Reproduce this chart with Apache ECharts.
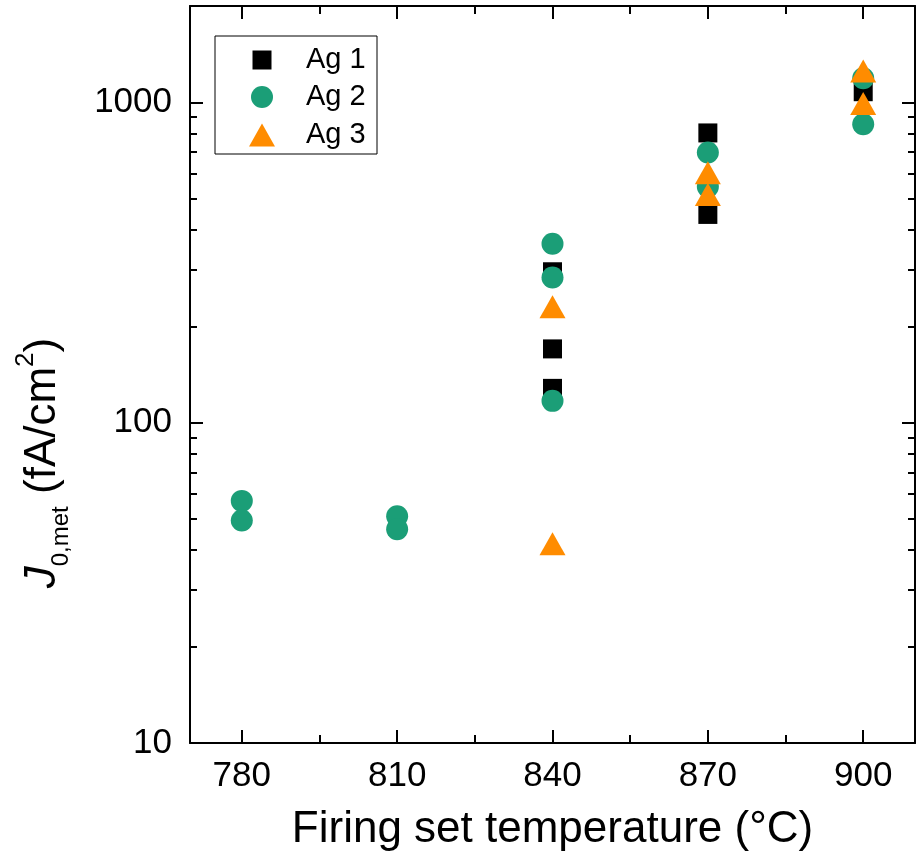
<!DOCTYPE html>
<html>
<head>
<meta charset="utf-8">
<script src="https://cdn.jsdelivr.net/npm/echarts@6/dist/echarts.min.js"></script>
<style>
html,body{margin:0;padding:0;background:#fff;}
#chart{width:921px;height:862px;}
</style>
</head>
<body>
<div id="chart"></div>
<script>
// ---- data ----
const seriesNames = ['Ag 1', 'Ag 2', 'Ag 3'];
const ag1X = [840, 840, 840, 870, 870, 900];
const ag1Y = [296, 170, 128, 803, 447, 1080];
const ag2X = [780, 780, 810, 810, 840, 840, 840, 870, 870, 900, 900];
const ag2Y = [57, 49.5, 51, 46.5, 362, 284, 117, 698, 545, 1190, 855];
const ag3X = [840, 840, 870, 870, 900, 900];
const ag3Y = [230, 41.9, 603, 516, 1253, 993];
const xMajorTicks = [780, 810, 840, 870, 900];
const xMinorTicks = [795, 825, 855, 885];
const yMajorTicks = [10, 100, 1000];
const yMinorTicks = [20, 30, 40, 50, 60, 70, 80, 90, 200, 300, 400, 500, 600, 700, 800, 900];
const xTitle = 'Firing set temperature (°C)';

// ---- styles ----
const colors = ['#000000', '#1b9e77', '#ff8c00'];
const symbols = ['rect', 'circle', 'triangle'];
const symbolSizes = [[19, 19], [22, 22], [26, 23]];
const legendRowY = [60, 97, 135];
const FONT = 'Liberation Sans, Arial, sans-serif';

const pairs = (xs, ys) => xs.map((x, i) => [x, ys[i]]);
const seriesData = [pairs(ag1X, ag1Y), pairs(ag2X, ag2Y), pairs(ag3X, ag3Y)];

const X_MIN = 770, X_MAX = 910, Y_MIN = 10, Y_MAX = 2000;
const lineS = { color: '#000', width: 2 };

function xAxis(pos, ticks, len, showLine, labels, name) {
  return {
    type: 'value', min: X_MIN, max: X_MAX, position: pos,
    axisLine: { show: showLine, lineStyle: lineS },
    axisTick: { show: true, inside: true, length: len, customValues: ticks, lineStyle: lineS },
    axisLabel: labels ? { show: true, customValues: ticks, fontSize: 35, color: '#000', margin: 16, fontFamily: FONT,
                          formatter: v => String(v) } : { show: false },
    splitLine: { show: false },
    name: name || '', nameLocation: 'middle', nameGap: 65,
    nameTextStyle: { fontSize: 44, color: '#000', fontFamily: FONT }
  };
}
function yAxis(pos, ticks, len, showLine, labels) {
  return {
    type: 'log', logBase: 10, min: Y_MIN, max: Y_MAX, position: pos,
    axisLine: { show: showLine, lineStyle: lineS },
    axisTick: { show: true, inside: true, length: len, customValues: ticks, lineStyle: lineS },
    axisLabel: labels ? { show: true, customValues: ticks, fontSize: 35, color: '#000', margin: 18, fontFamily: FONT,
                          formatter: v => String(Math.round(v)) } : { show: false },
    splitLine: { show: false }, minorTick: { show: false }
  };
}

const legends = seriesNames.map((n, i) => ({
  data: [n], orient: 'vertical', selectedMode: false, padding: 0,
  left: 262 - symbolSizes[i][0] / 2, top: legendRowY[i] - 15,
  itemWidth: symbolSizes[i][0], itemHeight: symbolSizes[i][1], symbolKeepAspect: false,
  textStyle: { fontSize: 29, color: '#000', lineHeight: 30, fontFamily: FONT,
               padding: [0, 0, 0, 39 - symbolSizes[i][0] / 2] }
}));

const chart = echarts.init(document.getElementById('chart'), null, { renderer: 'canvas' });
chart.setOption({
  animation: false,
  backgroundColor: '#fff',
  grid: { left: 190, right: 6, top: 6, bottom: 119, containLabel: false },
  xAxis: [
    xAxis('bottom', xMajorTicks, 13, true, true, xTitle),
    xAxis('bottom', xMinorTicks, 8, false, false),
    xAxis('top', xMajorTicks, 13, true, false),
    xAxis('top', xMinorTicks, 8, false, false)
  ],
  yAxis: [
    yAxis('left', yMajorTicks, 13, true, true),
    yAxis('left', yMinorTicks, 7, false, false),
    yAxis('right', yMajorTicks, 13, true, false),
    yAxis('right', yMinorTicks, 7, false, false)
  ],
  legend: legends,
  graphic: [
    { type: 'rect', shape: { x: 215, y: 36, width: 162, height: 118 },
      style: { fill: 'none', stroke: '#000', lineWidth: 1 }, z: 10, silent: true },
    { type: 'text', x: 43, y: 463, rotation: Math.PI / 2, silent: true,
      style: {
        text: '{i|J}{sub|0,met}{n| (fA/cm}{sup|2}{n|)}',
        align: 'center', verticalAlign: 'middle', fill: '#000',
        fontFamily: FONT,
        rich: {
          i: { fontSize: 44, fontStyle: 'italic', lineHeight: 60, fontFamily: FONT },
          n: { fontSize: 44, lineHeight: 60, fontFamily: FONT },
          sub: { fontSize: 24, lineHeight: 43, verticalAlign: 'bottom', fontFamily: FONT },
          sup: { fontSize: 26, lineHeight: 32, verticalAlign: 'top', fontFamily: FONT }
        }
      }
    }
  ],
  series: seriesNames.map((n, i) => ({
    name: n, type: 'scatter', xAxisIndex: 0, yAxisIndex: 0,
    symbol: symbols[i], symbolSize: symbolSizes[i],
    itemStyle: { color: colors[i], opacity: 1 },
    data: seriesData[i], z: 2 + i
  }))
});
</script>
</body>
</html>
